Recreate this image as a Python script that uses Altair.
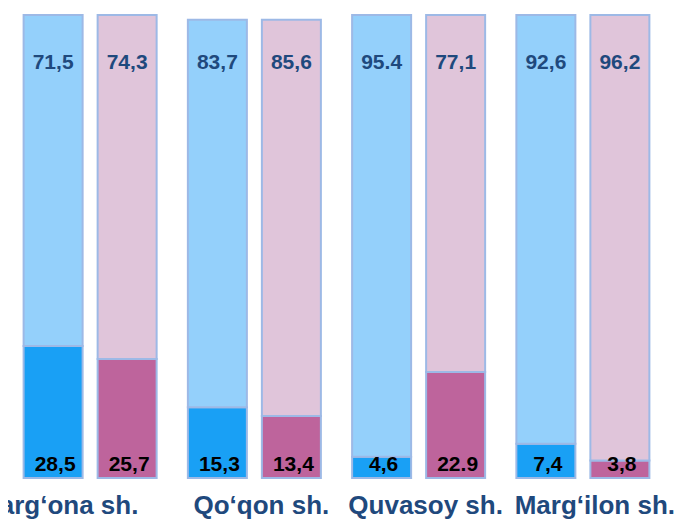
import altair as alt
import pandas as pd

categories = ["Farg‘ona sh.", "Qo‘qon sh.", "Quvasoy sh.", "Marg‘ilon sh."]
series = ["blue", "pink"]

blue_bottom = [28.5, 15.3, 4.6, 7.4]
blue_top = [71.5, 83.7, 95.4, 92.6]
pink_bottom = [25.7, 13.4, 22.9, 3.8]
pink_top = [74.3, 85.6, 77.1, 96.2]

blue_bottom_labels = ["28,5", "15,3", "4,6", "7,4"]
blue_top_labels = ["71,5", "83,7", "95.4", "92,6"]
pink_bottom_labels = ["25,7", "13,4", "22.9", "3,8"]
pink_top_labels = ["74,3", "85,6", "77,1", "96,2"]

# styling
keys = ["blue-bottom", "blue-top", "pink-bottom", "pink-top"]
colors = ["#19A0F5", "#94D0FB", "#BE649C", "#E0C5DA"]
label_dx = [-29, 7, 7, 12]
FONT = "Liberation Sans"
NAVY = "#1F497D"

rows = []
for i, c in enumerate(categories):
    for s, bot, top, bl, tl in [
        ("blue", blue_bottom, blue_top, blue_bottom_labels, blue_top_labels),
        ("pink", pink_bottom, pink_top, pink_bottom_labels, pink_top_labels),
    ]:
        rows.append(dict(cat=c, series=s, part="bottom", ord=0, value=bot[i], label=bl[i], key=f"{s}-bottom"))
        rows.append(dict(cat=c, series=s, part="top", ord=1, value=top[i], label=tl[i], key=f"{s}-top"))
df = pd.DataFrame(rows)

x_enc = alt.X("cat:N", sort=categories,
              scale=alt.Scale(range=[0, 657], paddingInner=0, paddingOuter=0),
              axis=None)
xoff_enc = alt.XOffset("series:N", sort=series,
                       scale=alt.Scale(paddingInner=0.2027, paddingOuter=0.211))

base = alt.Chart(df)

bars = base.mark_bar(stroke="#9DB9E6", strokeWidth=2).encode(
    x=x_enc,
    xOffset=xoff_enc,
    y=alt.Y("value:Q", stack="zero",
            scale=alt.Scale(domain=[0, 100], range=[470, 7]), axis=None),
    color=alt.Color("key:N", scale=alt.Scale(domain=keys, range=colors), legend=None),
    order=alt.Order("ord:Q"),
)

top_text = base.transform_filter(alt.datum.part == "top").mark_text(
    font=FONT, fontSize=21, fontWeight="bold", color=NAVY, baseline="middle"
).encode(x=x_enc, xOffset=xoff_enc, y=alt.value(55), text="label:N")

bot_text = base.transform_filter(alt.datum.part == "bottom").mark_text(
    font=FONT, fontSize=21, fontWeight="bold", color="#000000", baseline="middle", dx=2
).encode(x=x_enc, xOffset=xoff_enc, y=alt.value(457), text="label:N")

cat_df = pd.DataFrame({"cat": categories})
cat_layers = []
for c, dx in zip(categories, label_dx):
    cat_layers.append(
        alt.Chart(cat_df).transform_filter(alt.datum.cat == c).mark_text(
            font=FONT, fontSize=26, fontWeight="bold", color=NAVY,
            baseline="alphabetic", align="center", dx=dx
        ).encode(x=x_enc, y=alt.value(506), text="cat:N")
    )

chart = alt.layer(bars, top_text, bot_text, *cat_layers).properties(
    width=668, height=513,
    autosize=alt.AutoSizeParams(type="none"),
    padding={"left": 0, "top": 0, "right": 0, "bottom": 0},
).configure_view(stroke=None)

chart.save("out.html", embed_options={"renderer": "svg", "actions": False})
